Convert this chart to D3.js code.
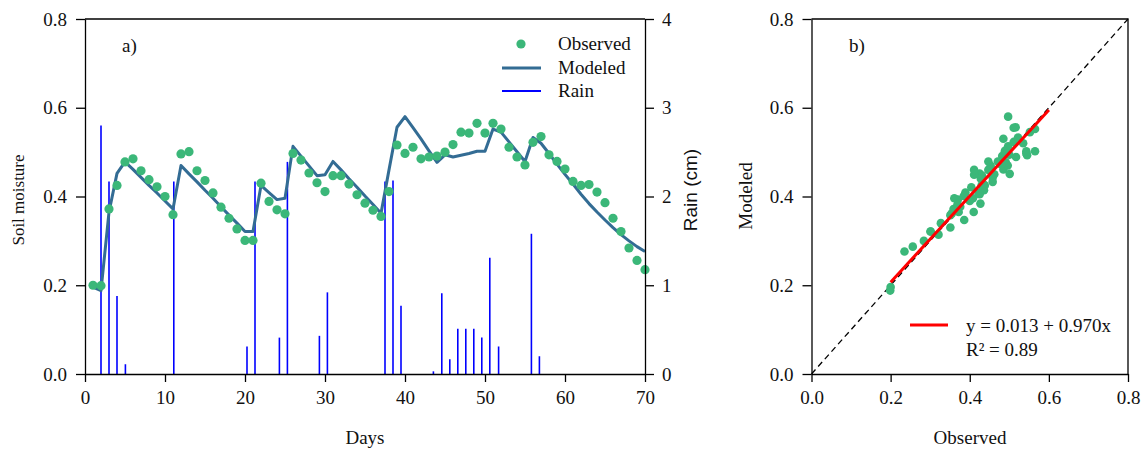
<!DOCTYPE html>
<html>
<head>
<meta charset="utf-8">
<title>Soil moisture: observed vs modeled</title>
<style>
	body { margin: 0; background: #fff; }
	svg { display: block; font-family: "Liberation Serif", "Times New Roman", serif; }
	.axis path, .axis line { stroke: #000; stroke-width: 1.3; }
	.axis text { font-family: "Liberation Serif", "Times New Roman", serif !important; font-size: 19px !important; fill: #111; }
	.label { font-size: 19px; fill: #111; }
</style>
</head>
<body>
<div id="chart"></div>
<script src="https://cdnjs.cloudflare.com/ajax/libs/d3/7.8.5/d3.min.js"></script>
<script>

// daily series (day 1..70)
var days = [1,2,3,4,5,6,7,8,9,10,11,12,13,14,15,16,17,18,19,20,
	21,22,23,24,25,26,27,28,29,30,31,32,33,34,35,36,37,38,39,40,
	41,42,43,44,45,46,47,48,49,50,51,52,53,54,55,56,57,58,59,60,
	61,62,63,64,65,66,67,68,69,70];

var observed = [0.200,0.199,0.372,0.425,0.478,0.485,0.458,0.438,0.422,0.400,
	0.359,0.496,0.501,0.458,0.436,0.408,0.376,0.351,0.327,0.301,
	0.301,0.430,0.389,0.370,0.361,0.497,0.482,0.453,0.431,0.411,
	0.447,0.447,0.428,0.404,0.385,0.369,0.355,0.411,0.516,0.497,
	0.511,0.485,0.489,0.491,0.500,0.517,0.545,0.543,0.565,0.543,
	0.565,0.552,0.511,0.489,0.471,0.522,0.535,0.494,0.479,0.462,
	0.434,0.425,0.427,0.410,0.386,0.351,0.321,0.284,0.256,0.235];

var modeled = [0.196,0.188,0.365,0.452,0.478,0.461,0.443,0.425,0.408,0.390,
	0.372,0.470,0.451,0.433,0.414,0.396,0.377,0.358,0.340,0.321,
	0.321,0.425,0.409,0.393,0.396,0.513,0.491,0.469,0.447,0.449,
	0.479,0.460,0.440,0.421,0.401,0.382,0.362,0.460,0.556,0.580,
	0.555,0.530,0.503,0.477,0.494,0.489,0.493,0.497,0.502,0.502,
	0.552,0.545,0.523,0.501,0.479,0.533,0.520,0.497,0.473,0.450,
	0.428,0.405,0.384,0.365,0.347,0.330,0.314,0.300,0.287,0.276];

// rain events
var rainDay = [2.0,3.0,4.0,5.05,11.1,20.25,21.25,24.3,25.3,29.3,30.3,37.5,38.5,39.5,
	43.55,44.6,45.6,46.6,47.6,48.6,49.6,50.6,51.7,55.8,56.8];
var rainCm = [2.80,2.17,0.88,0.11,2.17,0.31,2.17,0.41,2.39,0.43,0.92,2.17,2.18,0.77,
	0.03,0.91,0.165,0.51,0.51,0.51,0.41,1.31,0.31,1.58,0.20];

var dayTicks = [0,10,20,30,40,50,60,70];
var smTicks = [0,0.2,0.4,0.6,0.8];
var rainTicks = [0,1,2,3,4];

// fitted line
var fitIntercept = 0.013, fitSlope = 0.970, fitRange = [0.2, 0.6];

var green = "#3bb779", modelBlue = "#336c94", rainBlue = "#0000ff";
var serif = "'Liberation Serif', 'Times New Roman', serif";

var svg = d3.select("#chart").append("svg")
	.attr("width", 1146)
	.attr("height", 452);

var plotTop = 19, plotBottom = 374;

function styleAxis(g) {
	g.attr("font-family", null).attr("font-size", null);
	g.selectAll(".tick text")
		.style("font-family", serif)
		.style("font-size", "19px")
		.attr("fill", "#111");
}

// ---- panel a ----
var x = d3.scaleLinear().domain([0, 70]).range([85, 645]);
var y = d3.scaleLinear().domain([0, 0.8]).range([plotBottom, plotTop]);
var yRain = d3.scaleLinear().domain([0, 4]).range([plotBottom, plotTop]);

var a = svg.append("g");

a.append("line")
	.attr("x1", x(0)).attr("x2", x(70))
	.attr("y1", plotTop).attr("y2", plotTop)
	.attr("stroke", "#000").attr("stroke-width", 1.3);

a.selectAll(".rain")
	.data(rainDay)
	.enter().append("line")
	.attr("class", "rain")
	.attr("x1", function(d) { return x(d); })
	.attr("x2", function(d) { return x(d); })
	.attr("y1", yRain(0))
	.attr("y2", function(d, i) { return yRain(rainCm[i]); })
	.attr("stroke", rainBlue)
	.attr("stroke-width", 1.6);

a.append("path")
	.datum(days)
	.attr("fill", "none")
	.attr("stroke", modelBlue)
	.attr("stroke-width", 3)
	.attr("stroke-linejoin", "round")
	.attr("d", d3.line()
		.x(function(d) { return x(d); })
		.y(function(d, i) { return y(modeled[i]); }));

a.selectAll(".obs")
	.data(days)
	.enter().append("circle")
	.attr("class", "obs")
	.attr("cx", function(d) { return x(d); })
	.attr("cy", function(d, i) { return y(observed[i]); })
	.attr("r", 4.6)
	.attr("fill", green);

a.append("g")
	.attr("class", "axis")
	.attr("transform", "translate(0," + plotBottom + ")")
	.call(d3.axisBottom(x).tickValues(dayTicks).tickSize(8).tickPadding(9).tickSizeOuter(0))
	.call(styleAxis);

a.append("g")
	.attr("class", "axis")
	.attr("transform", "translate(" + x(0) + ",0)")
	.call(d3.axisLeft(y).tickValues(smTicks).tickFormat(d3.format(".1f")).tickSize(9).tickPadding(9).tickSizeOuter(0))
	.call(styleAxis);

a.append("g")
	.attr("class", "axis")
	.attr("transform", "translate(" + x(70) + ",0)")
	.call(d3.axisRight(yRain).tickValues(rainTicks).tickFormat(d3.format("d")).tickSize(9).tickPadding(8).tickSizeOuter(0))
	.call(styleAxis);

a.append("text").attr("class", "label")
	.attr("x", 122).attr("y", 52).text("a)");

a.append("text").attr("class", "label")
	.attr("text-anchor", "middle")
	.attr("x", 365).attr("y", 444).text("Days");

a.append("text").attr("class", "label")
	.attr("text-anchor", "middle")
	.attr("transform", "translate(24,200) rotate(-90)")
	.style("font-size", "17px")
	.text("Soil moisture");

a.append("text").attr("class", "label")
	.attr("text-anchor", "middle")
	.attr("transform", "translate(697,190) rotate(-90)")
	.style("font-family", "'Liberation Sans', Arial, sans-serif")
	.text("Rain (cm)");

// legend a
var lg = a.append("g").attr("class", "label");
lg.append("circle").attr("cx", 521).attr("cy", 44).attr("r", 4.6).attr("fill", green);
lg.append("line").attr("x1", 502).attr("x2", 541).attr("y1", 68).attr("y2", 68)
	.attr("stroke", modelBlue).attr("stroke-width", 3);
lg.append("line").attr("x1", 502).attr("x2", 541).attr("y1", 91).attr("y2", 91)
	.attr("stroke", rainBlue).attr("stroke-width", 2);
lg.append("text").attr("x", 558).attr("y", 50).text("Observed");
lg.append("text").attr("x", 558).attr("y", 74).text("Modeled");
lg.append("text").attr("x", 558).attr("y", 97).text("Rain");

// ---- panel b ----
var sx = d3.scaleLinear().domain([0, 0.8]).range([811.5, 1128]);
var sy = d3.scaleLinear().domain([0, 0.8]).range([plotBottom, plotTop]);

var b = svg.append("g");

b.append("path")
	.attr("d", "M" + sx(0) + "," + plotTop + "H" + sx(0.8) + "V" + plotBottom)
	.attr("fill", "none").attr("stroke", "#000").attr("stroke-width", 1.3);

b.append("line")
	.attr("x1", sx(0)).attr("y1", sy(0))
	.attr("x2", sx(0.8)).attr("y2", sy(0.8))
	.attr("stroke", "#000").attr("stroke-width", 1.3)
	.attr("stroke-dasharray", "6,4");

b.selectAll(".pt")
	.data(observed)
	.enter().append("circle")
	.attr("class", "pt")
	.attr("cx", function(d) { return sx(d); })
	.attr("cy", function(d, i) { return sy(modeled[i]); })
	.attr("r", 4.3)
	.attr("fill", green);

b.append("line")
	.attr("x1", sx(fitRange[0])).attr("y1", sy(fitIntercept + fitSlope * fitRange[0]))
	.attr("x2", sx(fitRange[1])).attr("y2", sy(fitIntercept + fitSlope * fitRange[1]))
	.attr("stroke", "#ff0000").attr("stroke-width", 3);

b.append("g")
	.attr("class", "axis")
	.attr("transform", "translate(0," + plotBottom + ")")
	.call(d3.axisBottom(sx).tickValues(smTicks).tickFormat(d3.format(".1f")).tickSize(8).tickPadding(9).tickSizeOuter(0))
	.call(styleAxis);

b.append("g")
	.attr("class", "axis")
	.attr("transform", "translate(" + sx(0) + ",0)")
	.call(d3.axisLeft(sy).tickValues(smTicks).tickFormat(d3.format(".1f")).tickSize(9).tickPadding(9).tickSizeOuter(0))
	.call(styleAxis);

b.append("text").attr("class", "label")
	.attr("x", 849).attr("y", 52).text("b)");

b.append("text").attr("class", "label")
	.attr("text-anchor", "middle")
	.attr("x", 970).attr("y", 444).text("Observed");

b.append("text").attr("class", "label")
	.attr("text-anchor", "middle")
	.attr("transform", "translate(752,196) rotate(-90)")
	.text("Modeled");

b.append("line").attr("x1", 910).attr("x2", 948).attr("y1", 325).attr("y2", 325)
	.attr("stroke", "#ff0000").attr("stroke-width", 3);
b.append("text").attr("class", "label")
	.attr("x", 966).attr("y", 332)
	.text("y = " + fitIntercept.toFixed(3) + " + " + fitSlope.toFixed(3) + "x");
b.append("text").attr("class", "label")
	.attr("x", 966).attr("y", 356)
	.text("R\u00b2 = 0.89");

</script>
</body>
</html>
